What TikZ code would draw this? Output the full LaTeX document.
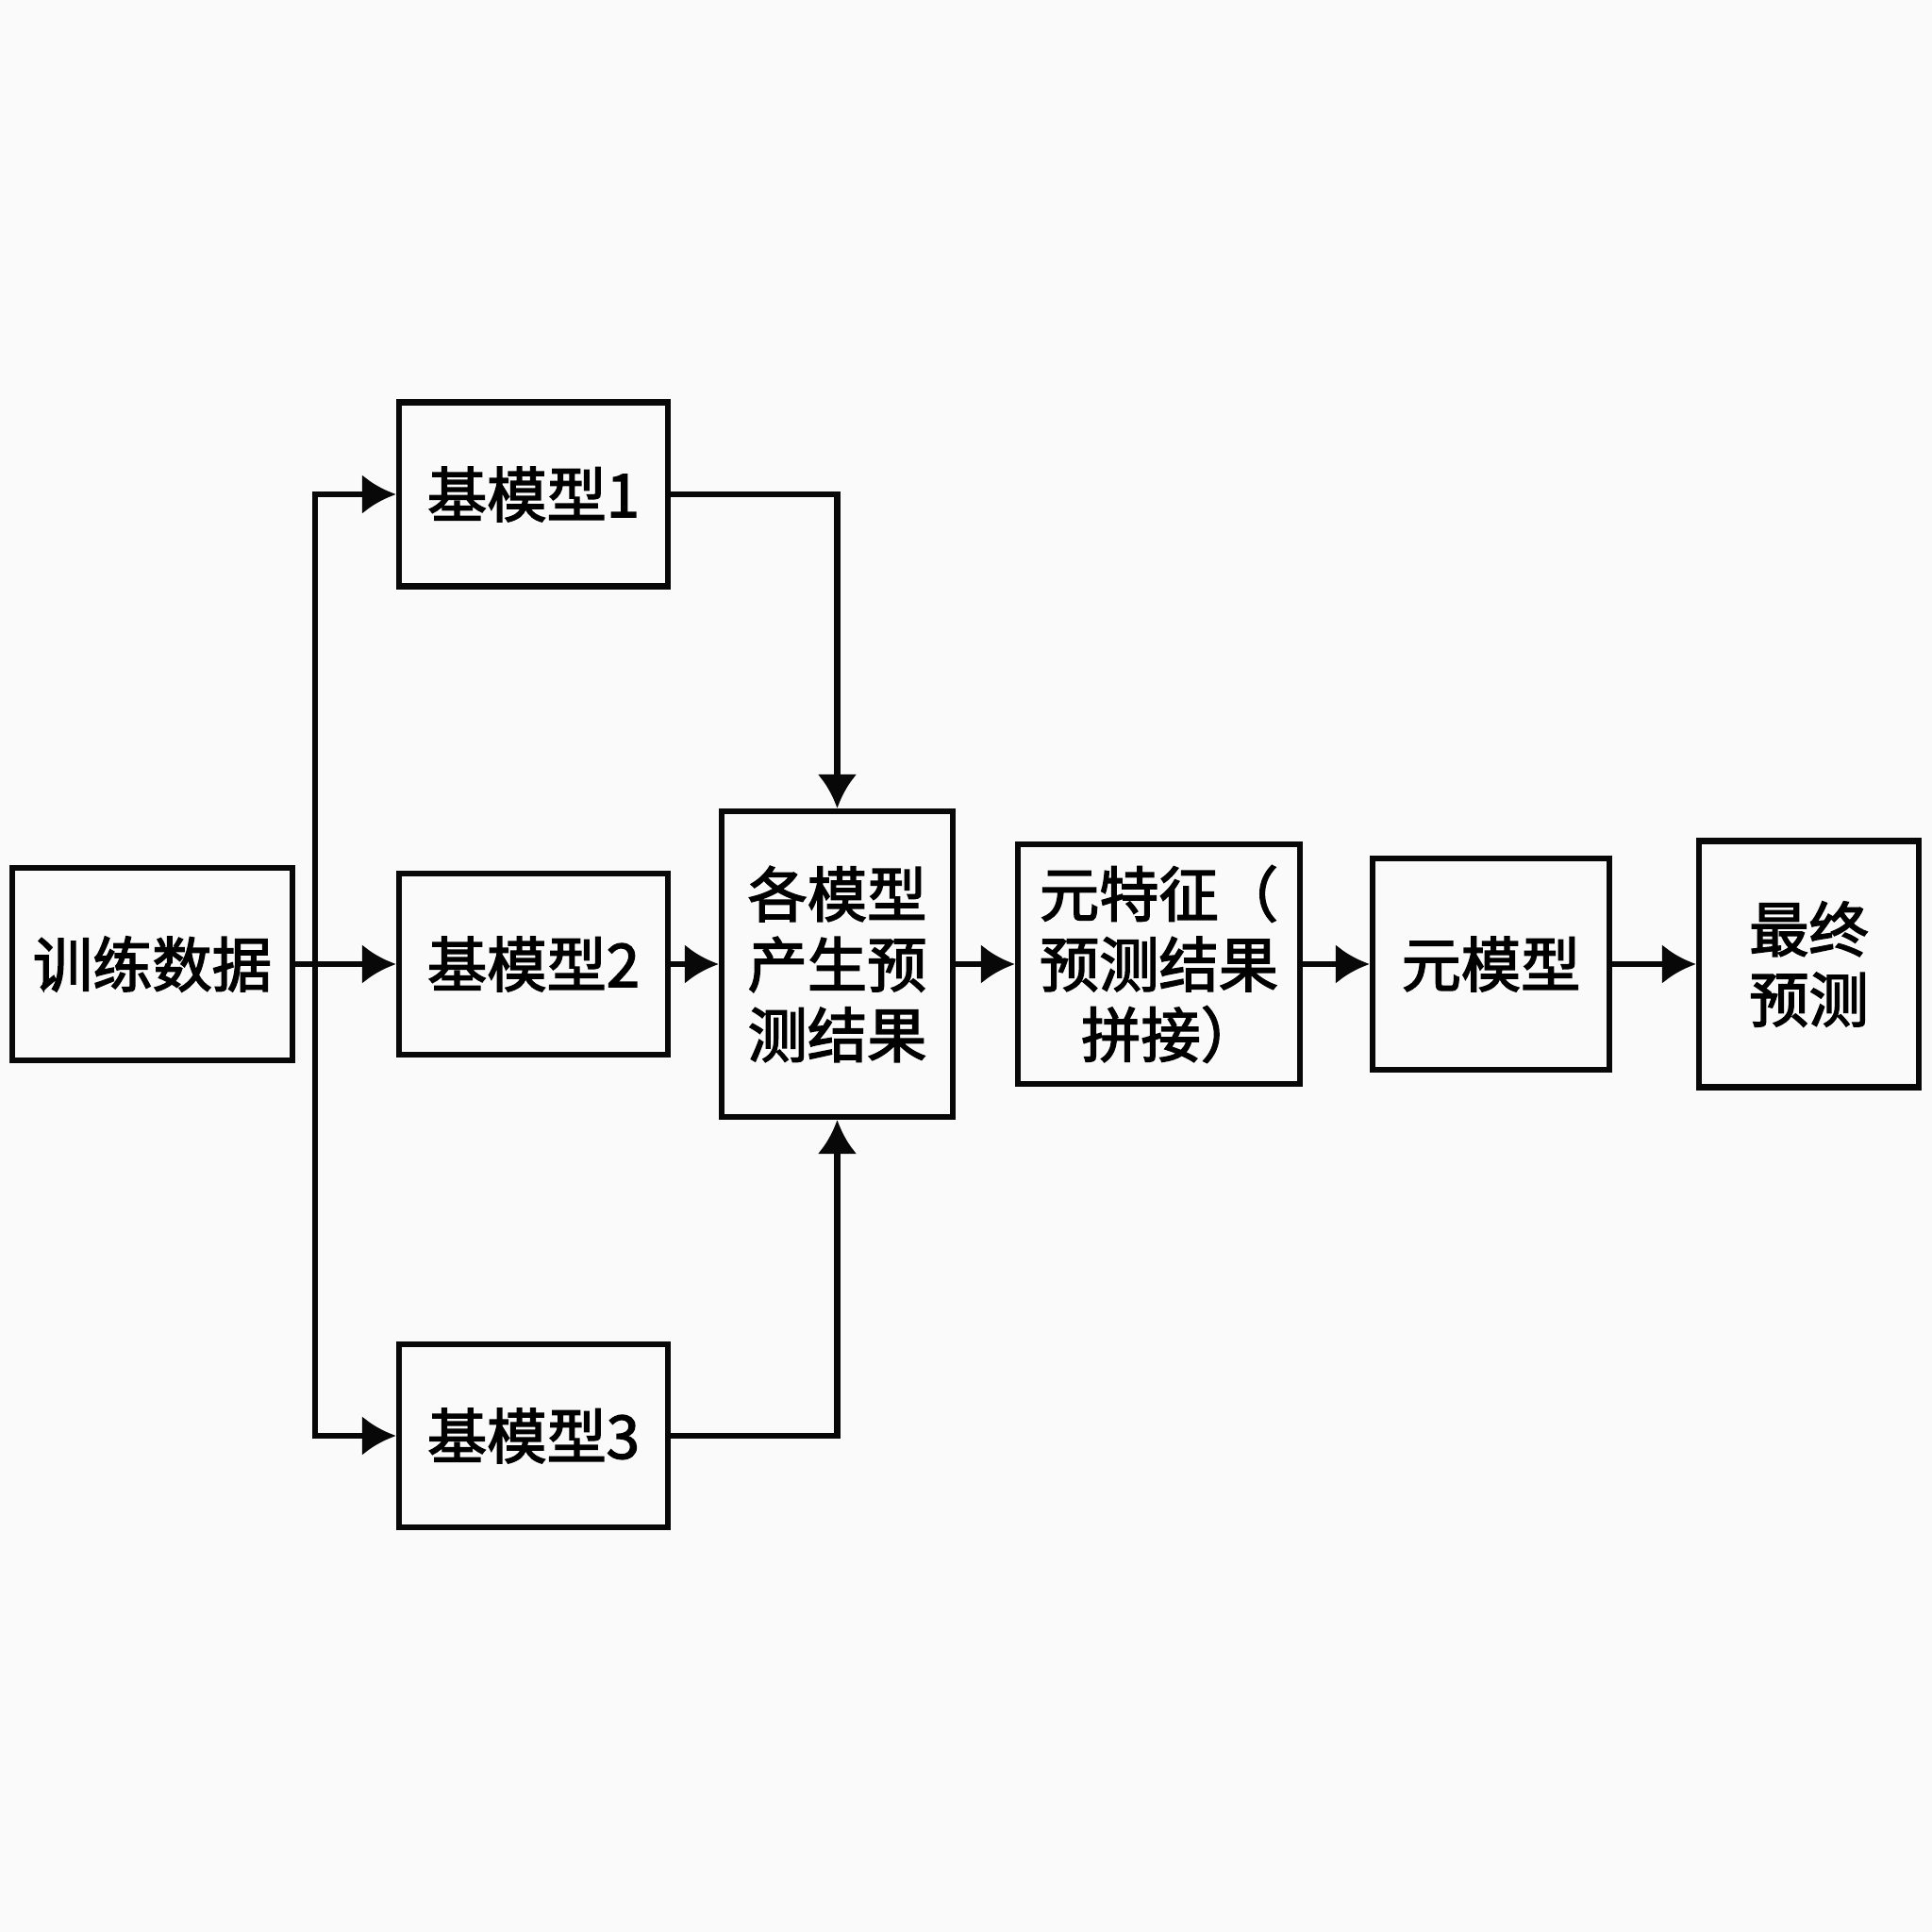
\documentclass[tikz,border=0pt]{standalone}
\usepackage{fontspec}
\usepackage{tikz}
\usetikzlibrary{arrows.meta,positioning,calc}
\newfontfamily\cjk[FakeBold=2.4]{Noto Sans CJK SC}
\definecolor{paper}{RGB}{250,250,250}
\definecolor{ink}{RGB}{8,8,8}

\begin{document}
\begin{tikzpicture}[
  font=\cjk\fontsize{18}{21.2}\selectfont,
  >={Latex[length=3.6mm,width=4.2mm]},
  blk/.style={draw=ink,line width=1.8pt,fill=paper,inner sep=0pt,align=center},
  flow/.style={->,draw=ink,line width=1.8pt}]
\useasboundingbox[fill=paper] (0,0) rectangle (20.48,20.48);
% ---------------- input and base models ----------------
\node[blk,minimum width=2.97cm,minimum height=2.04cm] (data) at (1.615,10.26) {训练数据};
\node[blk,minimum width=2.85cm,minimum height=1.95cm] (base1) at (5.655,15.24) {基模型1};
\node[blk,minimum width=2.85cm,minimum height=1.92cm] (base2) at (5.655,10.26) {基模型2};
\node[blk,minimum width=2.85cm,minimum height=1.94cm] (base3) at (5.655,5.26) {基模型3};
\coordinate (split) at (3.34,10.26);
% ---------------- stacking stage ----------------
\node[blk,minimum width=2.45cm,minimum height=3.24cm] (preds) at (8.875,10.26) {各模型\\产生预\\测结果};
\node[blk,minimum width=2.99cm,minimum height=2.54cm] (metafeat) at (12.285,10.26) {元特征（\\预测结果\\拼接）\kern-0.4em};
\node[blk,minimum width=2.51cm,minimum height=2.24cm] (metamodel) at (15.805,10.26) {元模型};
\node[blk,minimum width=2.33cm,minimum height=2.61cm] (final) at (19.175,10.26) {最终\\预测};
% ---------------- connectors ----------------
\draw[flow] (data) -- (base2);
\draw[flow] (split) |- (base1);
\draw[flow] (split) |- (base3);
\draw[flow] (base1) -| (preds);
\draw[flow] (base3) -| (preds);
\draw[flow] (base2) -- (preds);
\draw[flow] (preds) -- (metafeat);
\draw[flow] (metafeat) -- (metamodel);
\draw[flow] (metamodel) -- (final);
\end{tikzpicture}
\end{document}
